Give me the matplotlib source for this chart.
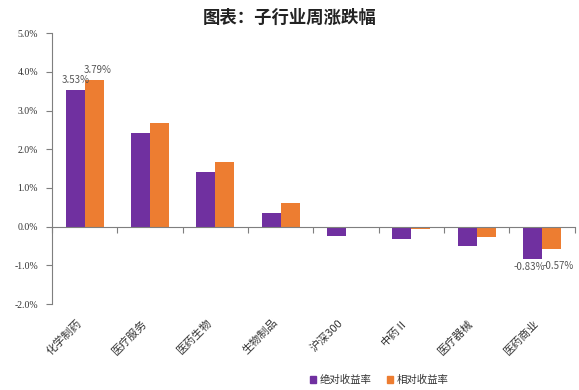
import matplotlib
matplotlib.use("Agg")
import matplotlib.pyplot as plt
import numpy as np
from matplotlib.transforms import blended_transform_factory
from matplotlib.patches import Patch

plt.rcParams['font.family'] = ['Noto Sans CJK SC', 'DejaVu Sans']

categories = ['化学制药', '医疗服务', '医药生物', '生物制品', '沪深300', '中药Ⅱ', '医疗器械', '医药商业']
absolute = [3.53, 2.43, 1.41, 0.35, -0.23, -0.31, -0.51, -0.83]
relative = [3.79, 2.69, 1.67, 0.60, -0.02, -0.06, -0.26, -0.57]
series_names = ['绝对收益率', '相对收益率']
yticks = [-2, -1, 0, 1, 2, 3, 4, 5]
labelled = {0: ('3.53%', '3.79%'), 7: ('-0.83%', '-0.57%')}

purple = '#7030A0'
orange = '#ED7D31'

fig = plt.figure(figsize=(5.79, 3.90), dpi=100)
ax = fig.add_axes([0.0898, 0.2205, 0.903, 0.6945])

x = np.arange(len(categories))
w = 0.29
ax.bar(x - w/2, absolute, w, color=purple)
ax.bar(x + w/2, relative, w, color=orange)

ax.set_xlim(-0.5, len(categories) - 0.5)
ax.set_ylim(-2, 5)
ax.set_yticks(yticks)
ax.set_yticklabels([f'{v:.1f}%' for v in yticks], family='Liberation Serif', fontsize=7, color='#333333')

for s in ['top', 'right']:
    ax.spines[s].set_visible(False)
ax.spines['bottom'].set_position(('data', 0))
ax.spines['left'].set_color('#7f7f7f')
ax.spines['bottom'].set_color('#7f7f7f')
ax.tick_params(axis='y', direction='out', length=4, color='#7f7f7f', pad=6)
ax.set_xticks(np.arange(len(categories) + 1) - 0.5)
ax.set_xticklabels([])
ax.tick_params(axis='x', direction='out', length=4, color='#7f7f7f')

trans = blended_transform_factory(ax.transData, ax.transAxes)
for i, c in enumerate(categories):
    ax.text(i - 0.02, -0.05, c, transform=trans, rotation=45, ha='right', va='top',
            fontsize=8, color='#333333')

for i, (la, lr) in labelled.items():
    if absolute[i] >= 0:
        ax.text(i - w/2, absolute[i] + 0.12, la, ha='center', va='bottom', fontsize=7, color='#555555')
        ax.text(i + w/2 + 0.05, relative[i] + 0.12, lr, ha='center', va='bottom', fontsize=7, color='#555555')
    else:
        ax.text(i - w/2 - 0.05, absolute[i] - 0.08, la, ha='center', va='top', fontsize=7, color='#555555')
        ax.text(i + w/2 + 0.1, absolute[i] - 0.05, lr, ha='center', va='top', fontsize=7, color='#555555')

fig.text(0.5, 0.955, '图表：子行业周涨跌幅', ha='center', va='center', fontsize=12.5, fontweight='bold', color='#222222')

handles = [Patch(color=purple), Patch(color=orange)]
fig.legend(handles, series_names, loc='center', bbox_to_anchor=(0.655, 0.025), ncol=2, frameon=False,
           fontsize=7.5, handlelength=0.6, handleheight=0.6, handletextpad=0.3, columnspacing=1.5,
           labelcolor='#333333')

fig.savefig('out.png', dpi=100)
